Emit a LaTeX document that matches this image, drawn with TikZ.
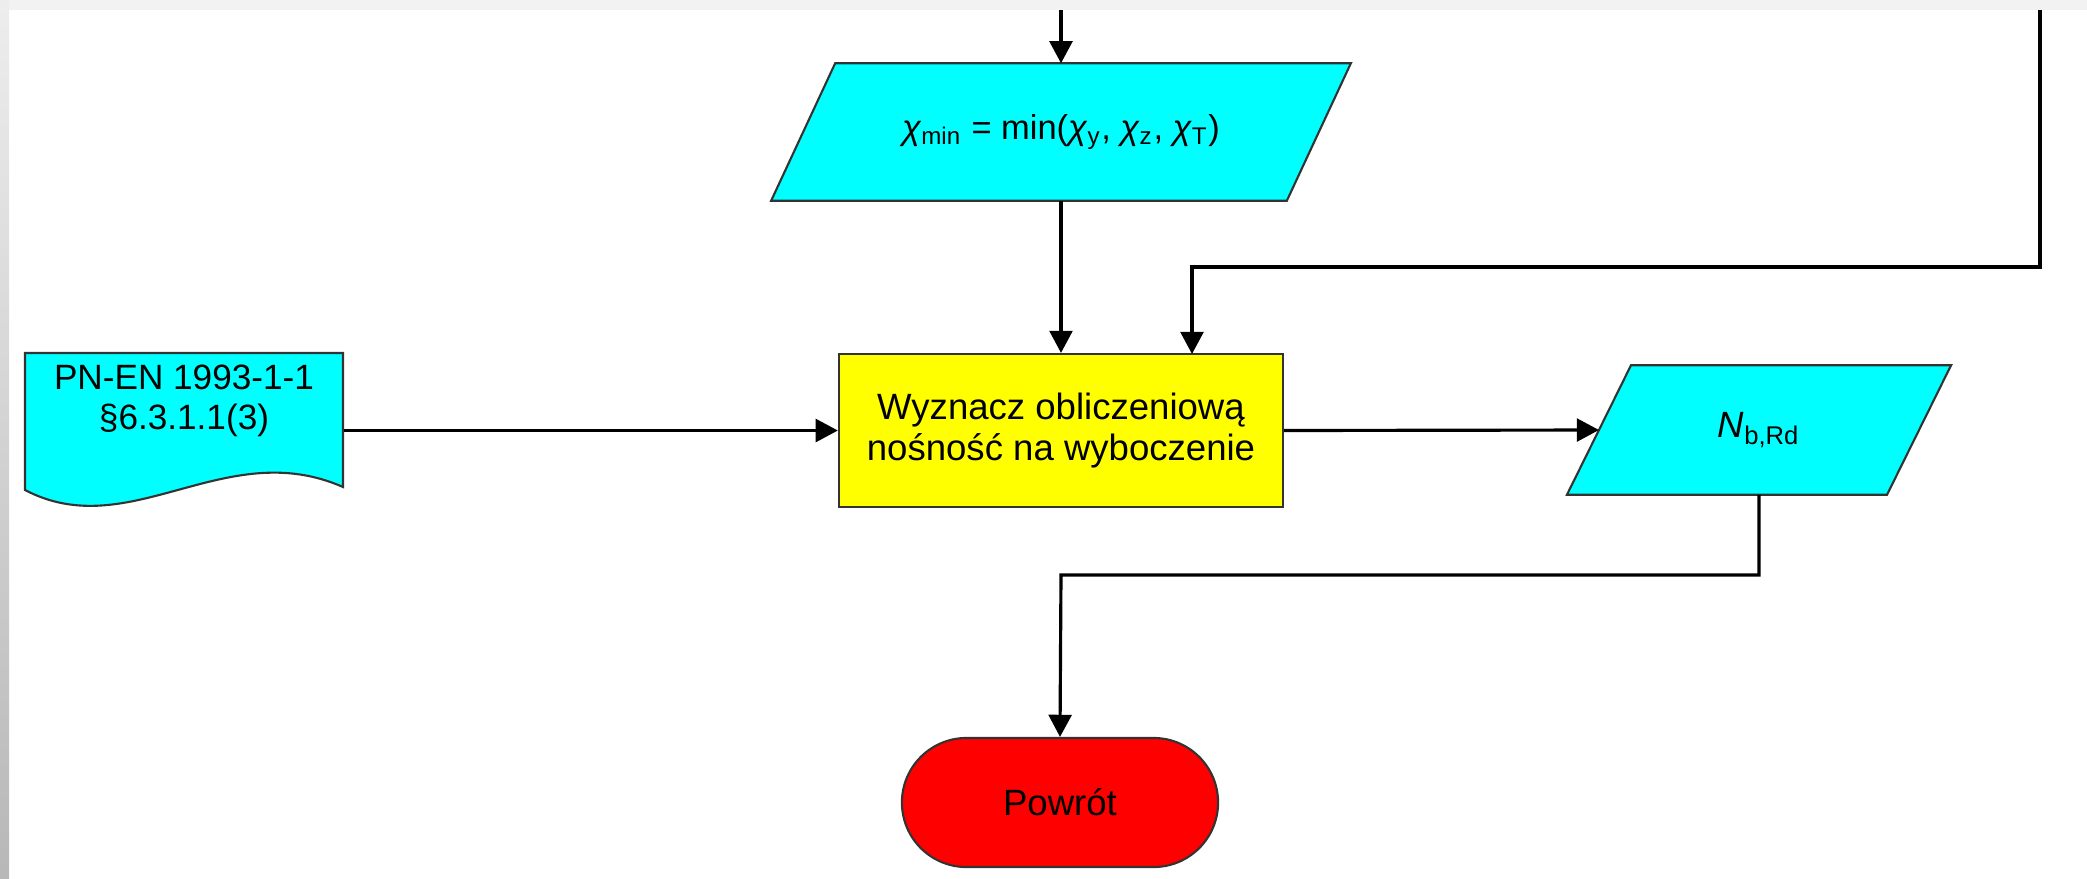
\documentclass[tikz,border=0pt]{standalone}
\usepackage{fontspec}
\setmainfont{Liberation Sans}
\usetikzlibrary{shapes.misc,arrows.meta,backgrounds}

\definecolor{wejscie}{RGB}{0,255,255}
\definecolor{zolty}{RGB}{255,255,0}
\definecolor{czerwony}{RGB}{255,0,0}

\newcommand\chiind[1]{\textit{χ}\textsubscript{#1}}

\tikzset{
    blok/.style={align=center, inner sep=0pt, font=\fontsize{10.4}{11.8}\selectfont},
    ramka/.style={draw=black!80, line width=0.6pt},
    dane/.style={blok, minimum height=#1},
    proces/.style={blok, ramka, fill=zolty, minimum width=4.44cm, minimum height=1.53cm},
    koniec/.style={blok, ramka, fill=czerwony, shape=rounded rectangle,
        minimum width=3.16cm, minimum height=1.29cm},
    conn/.style={draw, line width=0.9pt, -{Triangle[length=6.3pt,width=6.5pt]}}
}

% parallelogram behind a plain node
\newcommand\rownoleglobok[1]{%
    \begin{pgfonlayer}{background}
        \draw[ramka, fill=wejscie] ([xshift=3.2mm]#1.north west) -- ([xshift=3.2mm]#1.north east)
            -- ([xshift=-3.2mm]#1.south east) -- ([xshift=-3.2mm]#1.south west) -- cycle;
    \end{pgfonlayer}}

\begin{document}
\begin{tikzpicture}[x=0.01cm, y=-0.01cm]
        \useasboundingbox (0,0) rectangle (2087,878);
        \fill[black!5] (0,0) rectangle (2087,10);
        \shade[top color=black!7, bottom color=black!28] (0,0) rectangle (9,878);

        % document
        \node (norma) [minimum width=3.18cm, minimum height=1.37cm] at (184,421.5) {};
        \draw[ramka, fill=wejscie]
            (25,353) -- (343,353) -- (343,487)
            .. controls (225,435) and (130,545) .. (25,490) -- cycle;
        \node (normatxt) [align=center, font=\fontsize{10}{11.2}\selectfont]
            at (184,401) {PN-EN 1993-1-1\\§6.3.1.1(3)};

        % nodes
        \node (chimin) [dane=1.36cm, minimum width=5.14cm, font=\fontsize{9.8}{11}\selectfont]
            at (1061,132) {\chiind{min} = min(\chiind{y}, \chiind{z}, \chiind{T})};
        \rownoleglobok{chimin}
        \node (wyznacz) [proces] at (1061,430.5) {Wyznacz obliczeniową\\nośność na wyboczenie};
        \node (nbrd) [dane=1.28cm, minimum width=3.185cm] at (1759,430)
            {\textit{N}\textsubscript{b,Rd}};
        \rownoleglobok{nbrd}
        \node (powrot) [koniec] at (1060,802.5) {Powrót};

        \coordinate (wej) at (1061,10);
        \coordinate (wej2) at (2040,10);
        \coordinate (zbieg) at (1061,575);

        % connectors
        \draw[conn] (wej) -- (chimin);
        \draw[conn] (chimin) -- (wyznacz);
        \draw[conn] (wej2) |- (1192,267) -- (1192,354);
        \draw[conn] (norma.east |- wyznacz.west) -- (wyznacz.west);
        \draw[conn] (wyznacz.east) -- (nbrd.west);
        \draw[conn] (nbrd.south) |- (zbieg) -- (powrot.north);
    \end{tikzpicture}
\end{document}
